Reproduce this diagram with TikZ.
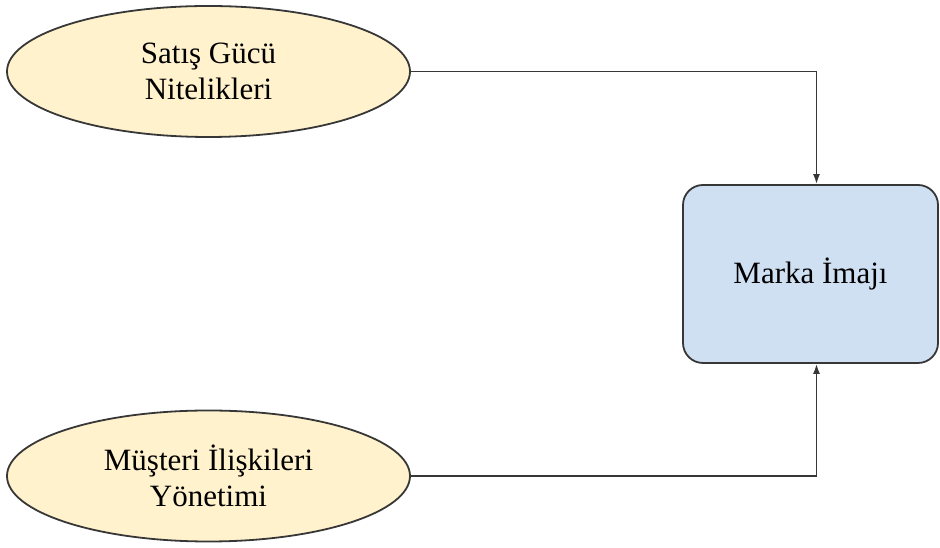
\documentclass[tikz,border=0pt]{standalone}
\usepackage{fontspec}
\setmainfont{Liberation Serif}
\usetikzlibrary{shapes.geometric}
\usetikzlibrary{arrows.meta}
\usepackage{xcolor}
\definecolor{sand}{RGB}{255,242,204}
\definecolor{sky}{RGB}{207,224,242}
\definecolor{edge}{RGB}{55,55,55}

\begin{document}
\begin{tikzpicture}[x=1pt, y=1pt,
		e/.style={ellipse, draw=edge, fill=sand, line width=1.8pt, minimum width=403pt, minimum height=131pt, inner sep=0pt, align=center, font=\fontsize{31}{36}\selectfont},
		b/.style={rectangle, rounded corners=20pt, draw=edge, fill=sky, line width=1.8pt, minimum width=255pt, minimum height=178pt, font=\fontsize{31}{36}\selectfont},
		r/.style={-{Latex[length=10pt, width=7pt]}, line width=1.6pt, draw=edge},
		]
		\useasboundingbox (0, 0) rectangle (940, 548);
		
		\node[e]	(satis)		at	(208.5, 476.5)	{Satış Gücü\\Nitelikleri};
		\node[e]	(musteri)	at	(208.5, 72)		{Müşteri İlişkileri\\Yönetimi};
		\node[b]	(marka)		at	(810.5, 274)	{Marka İmajı};
		
		\draw[r]	(satis.east)	-|	([xshift=6pt]marka.north);
		\draw[r]	(musteri.east)	-|	([xshift=6pt]marka.south);
	\end{tikzpicture}
\end{document}
